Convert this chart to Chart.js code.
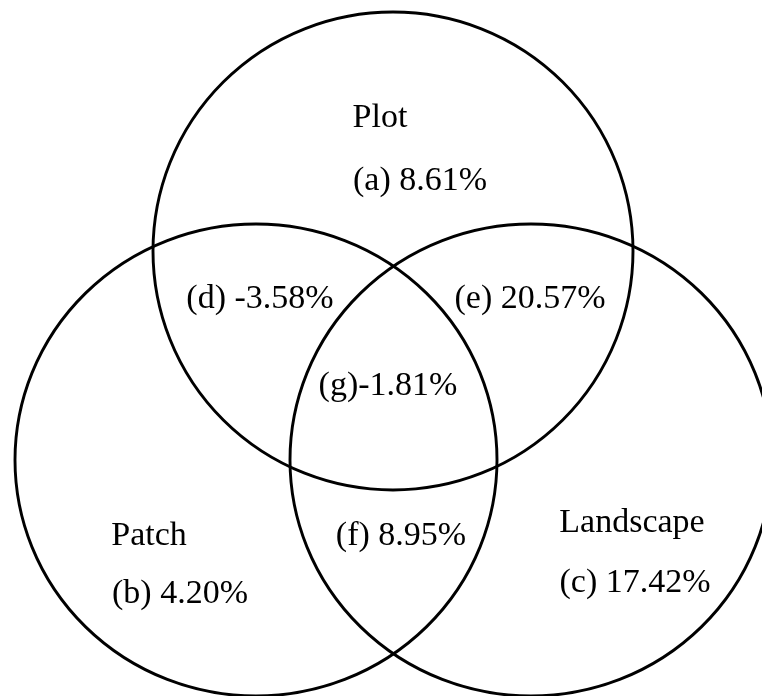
<!DOCTYPE html>
<html>
<head>
<meta charset="utf-8">
<script src="https://cdn.jsdelivr.net/npm/chart.js@4.4.1/dist/chart.umd.min.js"></script>
<style>
    html, body { margin: 0; padding: 0; background: #ffffff; }
    #venn { display: block; }
</style>
</head>
<body>
<canvas id="venn" width="762" height="696"></canvas>
<script>
// set names and region values
const setNames = ['Plot', 'Patch', 'Landscape'];
const regionTags = ['(a) ', '(b) ', '(c) ', '(d) ', '(e) ', '(f) ', '(g)'];
const regionValues = [8.61, 4.20, 17.42, -3.58, 20.57, 8.95, -1.81];

// layout (in axis units, the axes span the canvas)
const circleLayout = {
    cx: [393, 256, 531],
    cy: [251, 460, 460],
    rx: [240, 241, 241],
    ry: [239, 236, 236]
};
const setLabelPos = { x: [380, 149, 632], y: [127, 545, 532] };
const regionLabelPos = {
    x: [420, 180, 635, 260, 530, 401, 388],
    y: [190, 603, 592, 308, 308, 545, 395]
};

const fontSpec = '34px "Liberation Serif", "Times New Roman", serif';

const vennPlugin = {
    id: 'vennPlugin',
    afterDatasetsDraw(chart) {
        const ctx = chart.ctx;
        const xs = chart.scales.x;
        const ys = chart.scales.y;
        ctx.save();
        ctx.strokeStyle = '#000000';
        ctx.lineWidth = 2.9;
        for (let i = 0; i < setNames.length; i++) {
            const px = xs.getPixelForValue(circleLayout.cx[i]);
            const py = ys.getPixelForValue(circleLayout.cy[i]);
            const rX = Math.abs(xs.getPixelForValue(circleLayout.cx[i] + circleLayout.rx[i]) - px);
            const rY = Math.abs(ys.getPixelForValue(circleLayout.cy[i] + circleLayout.ry[i]) - py);
            ctx.beginPath();
            ctx.ellipse(px, py, rX, rY, 0, 0, Math.PI * 2);
            ctx.stroke();
        }
        ctx.fillStyle = '#000000';
        ctx.font = fontSpec;
        ctx.textAlign = 'center';
        ctx.textBaseline = 'alphabetic';
        setNames.forEach((name, i) => {
            ctx.fillText(name, xs.getPixelForValue(setLabelPos.x[i]), ys.getPixelForValue(setLabelPos.y[i]));
        });
        regionValues.forEach((v, i) => {
            const txt = regionTags[i] + v.toFixed(2) + '%';
            ctx.fillText(txt, xs.getPixelForValue(regionLabelPos.x[i]), ys.getPixelForValue(regionLabelPos.y[i]));
        });
        ctx.restore();
    }
};

document.addEventListener('DOMContentLoaded', function() {
    const vennCtx = document.getElementById('venn');
    new Chart(vennCtx, {
        type: 'scatter',
        data: {
            datasets: [{
                label: 'centres',
                data: circleLayout.cx.map((x, i) => ({ x: x, y: circleLayout.cy[i] })),
                pointRadius: 0,
                pointHoverRadius: 0
            }]
        },
        options: {
            responsive: false,
            animation: false,
            layout: { padding: 0 },
            plugins: {
                legend: { display: false },
                tooltip: { enabled: false }
            },
            scales: {
                x: { type: 'linear', min: 0, max: 762, display: false },
                y: { type: 'linear', min: 0, max: 696, reverse: true, display: false }
            }
        },
        plugins: [vennPlugin]
    });
});
</script>
</body>
</html>
